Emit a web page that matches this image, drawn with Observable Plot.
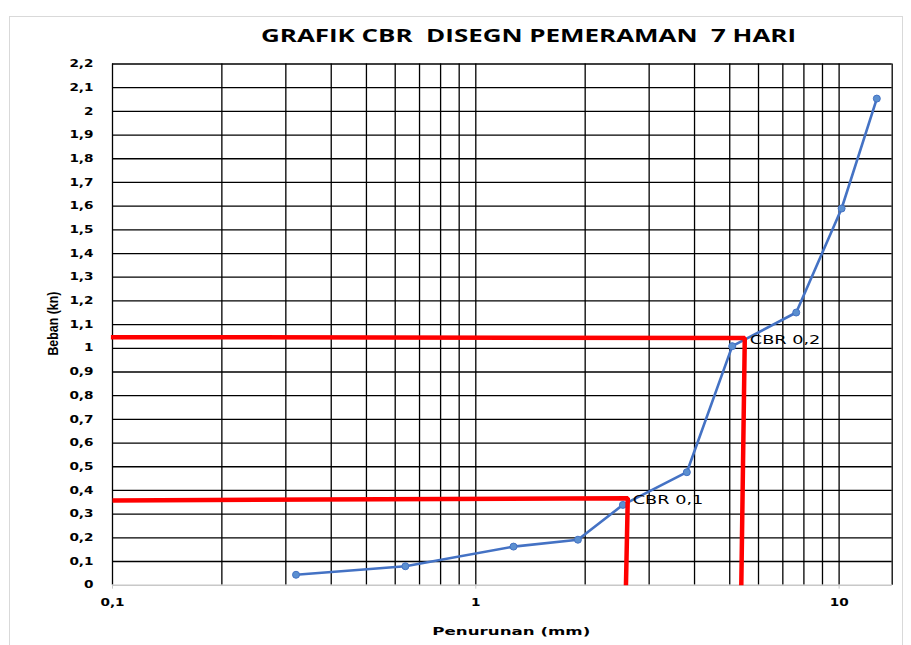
<!DOCTYPE html>
<html>
<head>
<meta charset="utf-8">
<script src="https://cdn.jsdelivr.net/npm/d3@7"></script>
<script src="https://cdn.jsdelivr.net/npm/@observablehq/plot@0.6"></script>
<style>
  html, body { margin: 0; padding: 0; background: #fff; }
  #wrap { position: relative; width: 911px; height: 645px; overflow: hidden; background: #fff; }
  #frame { position: absolute; left: 9px; top: 16px; width: 894px; height: 660px; border: 1px solid #d9d9d9; box-sizing: border-box; pointer-events: none; }
  #titlebox { position: relative; height: 48px; }
  #title { position: absolute; left: 261px; top: 26px; font-family: "Open Sans", sans-serif; font-weight: bold; font-size: 18px; line-height: 18px; white-space: pre; color: #000; transform-origin: 0 0; }
  #chart svg { display: block; }
</style>
</head>
<body>
<div id="wrap">
  <div id="titlebox"><span id="title">GRAFIK CBR  DISEGN PEMERAMAN  7 HARI</span></div>
  <div id="chart"></div>
  <div id="frame"></div>
</div>
<script>
// ---- data ----
const penurunan = [0.32, 0.64, 1.27, 1.91, 2.54, 3.81, 5.08, 7.62, 10.16, 12.7];   // mm
const beban     = [0.044, 0.080, 0.163, 0.192, 0.339, 0.477, 1.009, 1.151, 1.59, 2.054]; // kN

const cbr1X = [0.1, 2.62, 2.59];
const cbr1Y = [0.358, 0.367, 0];
const cbr2X = [0.099, 5.50, 5.38];
const cbr2Y = [1.047, 1.043, 0];
const cbrLabels = ["CBR 0,1", "CBR 0,2"];
const cbrLabelX = [2.62, 5.50];
const cbrLabelY = [0.367, 1.043];

const xTicks = [0.1, 1, 10];
const xGrid = [0.2, 0.3, 0.4, 0.5, 0.6, 0.7, 0.8, 0.9, 1, 2, 3, 4, 5, 6, 7, 8, 9, 10, 14];
const yTicks = [0, 0.1, 0.2, 0.3, 0.4, 0.5, 0.6, 0.7, 0.8, 0.9, 1, 1.1, 1.2, 1.3, 1.4, 1.5, 1.6, 1.7, 1.8, 1.9, 2, 2.1, 2.2];
const xLabel = "Penurunan (mm)";
const yLabel = "Beban (kn)";

// ---- build tables ----
const series = penurunan.map((x, i) => ({x, y: beban[i]}));
const red1 = cbr1X.map((x, i) => ({x, y: cbr1Y[i]}));
const red2 = cbr2X.map((x, i) => ({x, y: cbr2Y[i]}));
const labels = cbrLabels.map((t, i) => ({t, x: cbrLabelX[i], y: cbrLabelY[i]}));
const fmt = d => String(d).replace(".", ",");

const plot = Plot.plot({
  width: 911,
  height: 597,
  marginTop: 15.5,
  marginBottom: 60.3,
  marginLeft: 112,
  marginRight: 19.3,
  style: {fontFamily: "DejaVu Sans", fontSize: "10px", fontWeight: "bold", color: "#000", background: "transparent"},
  x: {type: "log", domain: [0.1, 14]},
  y: {domain: [0, 2.2]},
  marks: [
    Plot.ruleY(yTicks.filter(d => d > 0), {stroke: "#000", strokeWidth: 1.3}),
    Plot.ruleX(xGrid, {y1: 0, y2: 2.2, stroke: "#000", strokeWidth: 1.3}),
    Plot.ruleX([0.1], {y1: 0, y2: 2.2, stroke: "#000", strokeWidth: 1.3}),
    Plot.ruleY([0], {x1: 0.1, x2: 14, stroke: "#c8c8c8", strokeWidth: 1.6}),
    Plot.axisX(xTicks, {tickSize: 4, tickPadding: 10, stroke: "#c8c8c8", tickFormat: fmt, label: null, fill: "#000"}),
    Plot.axisY(yTicks, {tickSize: 0, tickPadding: 19, tickFormat: fmt, label: null, fill: "#000"}),
    Plot.line(series, {x: "x", y: "y", stroke: "#4472C4", strokeWidth: 2.6}),
    Plot.dot(series, {x: "x", y: "y", r: 3.5, fill: "#5B8FD0", stroke: "#4472C4", strokeWidth: 1}),
    Plot.line(red1, {x: "x", y: "y", stroke: "#FF0000", strokeWidth: 4.5, strokeLinejoin: "miter", strokeLinecap: "butt"}),
    Plot.line(red2, {x: "x", y: "y", stroke: "#FF0000", strokeWidth: 4.5, strokeLinejoin: "miter", strokeLinecap: "butt"}),
    Plot.text(labels, {x: "x", y: "y", text: "t", dx: 5, dy: 2, textAnchor: "start", fontWeight: "normal", fontSize: 13, fill: "#000"}),
    Plot.text([xLabel], {frameAnchor: "bottom", text: d => d, dx: 9, dy: 50, fontSize: 11, fontWeight: "bold", fill: "#000"}),
    Plot.text([yLabel], {frameAnchor: "left", textAnchor: "middle", text: d => d, dx: -59, dy: -1, rotate: -90, fontFamily: "Liberation Sans", fontSize: 14, fontWeight: "bold", fill: "#000"})
  ]
});

document.getElementById("chart").append(plot);

// horizontal stretch of the original picture
const K = 1.36;
plot.querySelectorAll("text").forEach(t => {
  const txt = t.textContent;
  const L = t.getComputedTextLength();
  let target = L * K;
  if (txt === xLabel) target = 158;
  if (txt === yLabel) target = 64;
  t.setAttribute("textLength", target);
  t.setAttribute("lengthAdjust", "spacingAndGlyphs");
});

const title = document.getElementById("title");
const w = title.getBoundingClientRect().width;
title.style.transform = `scaleX(${535 / w})`;
</script>
</body>
</html>
